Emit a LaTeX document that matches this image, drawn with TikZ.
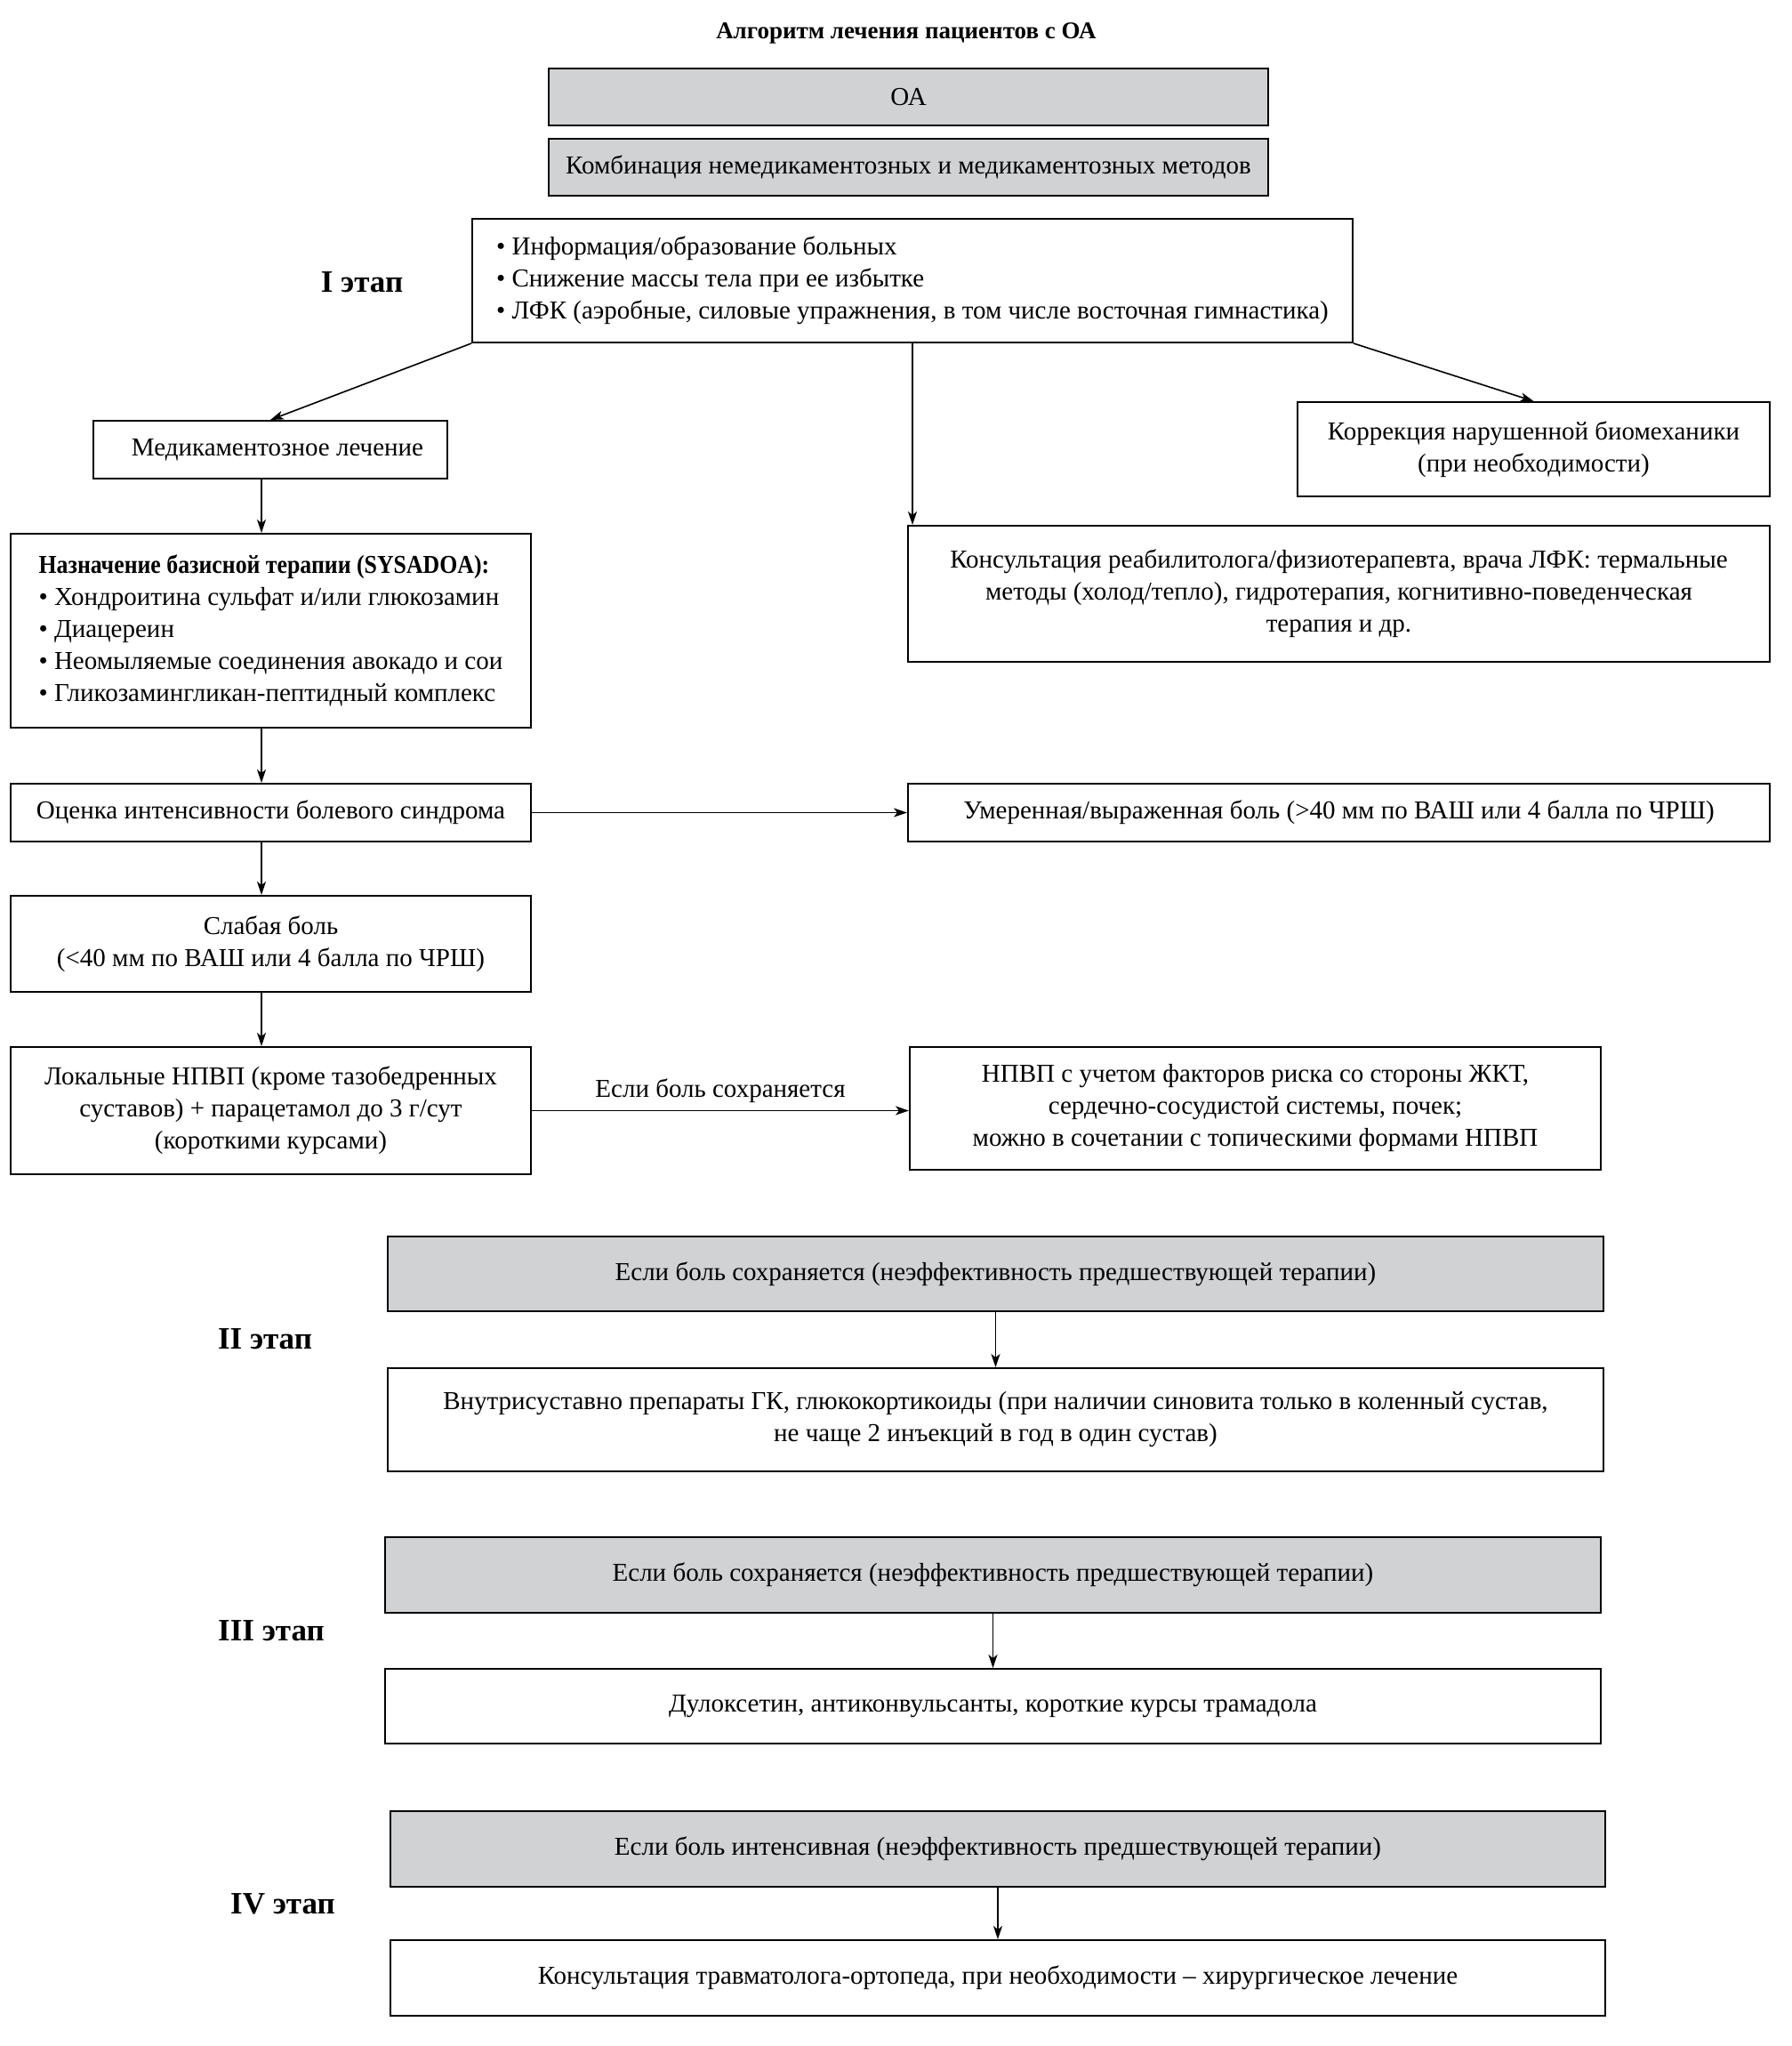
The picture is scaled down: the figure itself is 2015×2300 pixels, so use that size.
\documentclass[tikz,border=0pt]{standalone}
\usepackage{fontspec}
\setmainfont{Liberation Serif}
\newfontfamily\condserif{Liberation Serif}[FakeStretch=0.89]
\usetikzlibrary{arrows.meta}
\definecolor{boxgray}{RGB}{209,210,212}
\begin{document}
\begin{tikzpicture}[x=1pt,y=-1pt,
  box/.style={draw=black, line width=2pt, fill=white, inner sep=0pt, align=center,
    font=\fontsize{29}{36}\selectfont},
  graybox/.style={box, fill=boxgray},
  arr/.style={line width=1.6pt, -{Stealth[length=15pt,width=10pt,inset=4pt]}},
  stage/.style={font=\fontsize{35}{40}\selectfont\bfseries},
  lbl/.style={font=\fontsize{29}{36}\selectfont, inner sep=0pt}
]
\useasboundingbox (0,0) rectangle (2015,2300);
\fill[white] (0,0) rectangle (2015,2300);
\coordinate (colx) at (294,0);

\node[font=\fontsize{27}{30}\selectfont\bfseries] (title) at (1019,37) {Алгоритм лечения пациентов с ОА};

\node[graybox, minimum width=809pt, minimum height=64pt] (oa) at (1021.5,109) {ОА};
\node[graybox, minimum width=809pt, minimum height=64pt] (komb) at (1021.5,188) {Комбинация немедикаментозных и медикаментозных методов};

\node[box, align=left, minimum width=990pt, minimum height=139pt] (st1) at (1026,315.5)
  {• Информация/образование больных\\ • Снижение массы тела при ее избытке\\ • ЛФК (аэробные, силовые упражнения, в том числе восточная гимнастика)};
\node[stage] (l1) at (407,317) {I этап};

\node[box, minimum width=398pt, minimum height=65pt] (med) at (304,505.5) {\hspace*{16pt}Медикаментозное лечение};
\node[box, minimum width=531pt, minimum height=106pt] (korr) at (1724.5,505) {Коррекция нарушенной биомеханики\\(при необходимости)};
\node[box, minimum width=969pt, minimum height=153pt] (kons) at (1505.5,667.5)
  {Консультация реабилитолога/физиотерапевта, врача ЛФК: термальные\\ методы (холод/тепло), гидротерапия, когнитивно-поведенческая\\ терапия и др.};

\node[box, align=left, minimum width=585pt, minimum height=218pt] (nazn) at (304.5,709)
  {{\condserif\bfseries Назначение базисной терапии (SYSADOA):}\\ • Хондроитина сульфат и/или глюкозамин\\ • Диацереин\\ • Неомыляемые соединения авокадо и сои\\ • Гликозамингликан-пептидный комплекс};

\node[box, minimum width=585pt, minimum height=65pt] (ocen) at (304.5,913.5) {Оценка интенсивности болевого синдрома};
\node[box, minimum width=969pt, minimum height=65pt] (umer) at (1505.5,913.5) {Умеренная/выраженная боль (>40 мм по ВАШ или 4 балла по ЧРШ)};

\node[box, minimum width=585pt, minimum height=108pt] (slab) at (304.5,1061) {Слабая боль\\(<40 мм по ВАШ или 4 балла по ЧРШ)};

\node[box, minimum width=585pt, minimum height=143pt] (lok) at (304.5,1248.5)
  {Локальные НПВП (кроме тазобедренных\\ суставов) + парацетамол до 3 г/сут\\ (короткими курсами)};
\node[box, minimum width=777pt, minimum height=138pt] (npvp) at (1411.5,1246)
  {НПВП с учетом факторов риска со стороны ЖКТ,\\ сердечно-сосудистой системы, почек;\\ можно в сочетании с топическими формами НПВП};

\node[graybox, minimum width=1367pt, minimum height=84pt] (g2) at (1119.5,1432) {Если боль сохраняется (неэффективность предшествующей терапии)};
\node[box, minimum width=1367pt, minimum height=116pt] (w2) at (1119.5,1596)
  {Внутрисуставно препараты ГК, глюкокортикоиды (при наличии синовита только в коленный сустав,\\ не чаще 2 инъекций в год в один сустав)};
\node[stage] (l2) at (298,1505) {II этап};

\node[graybox, minimum width=1367pt, minimum height=85pt] (g3) at (1116.5,1770.5) {Если боль сохраняется (неэффективность предшествующей терапии)};
\node[box, minimum width=1367pt, minimum height=84pt] (w3) at (1116.5,1918) {Дулоксетин, антиконвульсанты, короткие курсы трамадола};
\node[stage] (l3) at (305,1833) {III этап};

\node[graybox, minimum width=1366pt, minimum height=85pt] (g4) at (1122,2078.5) {Если боль интенсивная (неэффективность предшествующей терапии)};
\node[box, minimum width=1366pt, minimum height=85pt] (w4) at (1122,2223.5) {Консультация травматолога-ортопеда, при необходимости – хирургическое лечение};
\node[stage] (l4) at (318,2140) {IV этап};

% arrows
\draw[arr] (st1.south west) -- (med.north);
\draw[arr] (st1.south) -- (st1.south |- kons.north);
\draw[arr] (st1.south east) -- (korr.north);
\draw[arr] (med.south -| colx) -- (nazn.north -| colx);
\draw[arr] (nazn.south -| colx) -- (ocen.north -| colx);
\draw[arr] (ocen.east) -- (umer.west);
\draw[arr] (ocen.south -| colx) -- (slab.north -| colx);
\draw[arr] (slab.south -| colx) -- (lok.north -| colx);
\draw[arr] (lok.east) -- node[lbl, above=8pt] (lbl1) {Если боль сохраняется} (lok.east -| npvp.west);
\draw[arr] (g2.south) -- (w2.north);
\draw[arr] (g3.south) -- (w3.north);
\draw[arr] (g4.south) -- (w4.north);
\end{tikzpicture}
\end{document}
